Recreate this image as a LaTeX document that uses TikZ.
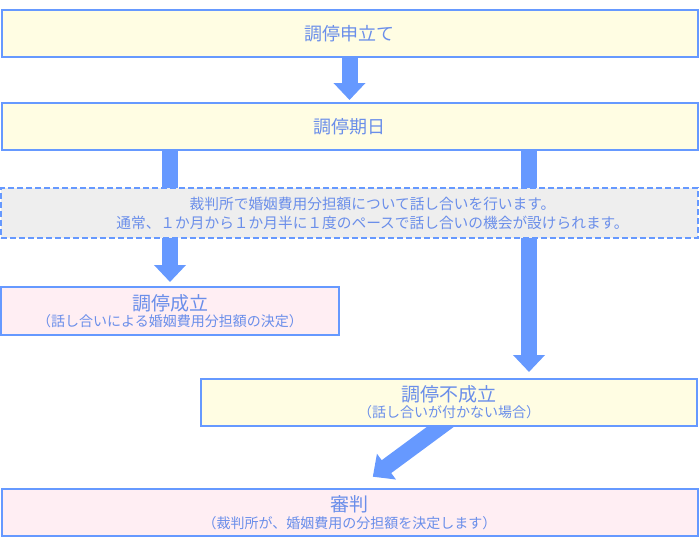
\documentclass[tikz,border=0pt]{standalone}
\usepackage{fontspec}
\setmainfont{Noto Sans CJK JP}
\usetikzlibrary{positioning,arrows.meta,backgrounds}

\definecolor{lineblue}{HTML}{6699FF}
\definecolor{textblue}{HTML}{6A8EEA}
\definecolor{creamfill}{HTML}{FFFDE3}
\definecolor{pinkfill}{HTML}{FFEEF3}
\definecolor{greyfill}{HTML}{EEEEEE}
\newcommand{\bigtxt}{\fontsize{18}{21}\selectfont}
\newcommand{\headtxt}{\fontsize{19}{20}\selectfont}
\newcommand{\smalltxt}{\fontsize{14}{17}\selectfont}

\begin{document}
\begin{tikzpicture}[x=1pt,y=-1pt,
	box/.style={draw=lineblue, line width=2pt, fill=creamfill, text=textblue,
		minimum width=696pt, minimum height=47pt, align=center, font=\bigtxt},
	pinkbox/.style={box, fill=pinkfill},
	notebox/.style={box, fill=greyfill, dash pattern=on 6pt off 3pt,
		minimum width=697pt, minimum height=50pt, font=\fontsize{14.7}{19}\selectfont},
	flow/.style={draw=lineblue, line width=16pt, -{Triangle[width=31pt,length=17pt]}}]
	 			\useasboundingbox (0,0) rectangle (700,551);
	 			\node[box] (moushitate) at (349.5,33.5) {調停申立て};
	 			\node[box] (kijitsu) [below=44pt of moushitate] {調停期日};
	 			\node[notebox] (kikai) [below=36pt of kijitsu]
	 			{\hspace*{46pt}裁判所で婚姻費用分担額について話し合いを行います。\\
	 			 \hspace*{46pt}通常、１か月から１か月半に１度のペースで話し合いの機会が設けられます。};
	 			\node[pinkbox, minimum width=338pt, minimum height=48pt] (seiritsu)
	 			[below=47pt of kikai.south west, anchor=north west]
	 			{{\headtxt 調停成立}\\[-5pt]{\smalltxt （話し合いによる婚姻費用分担額の決定）}};
	 			\node[box, minimum width=496pt] (fuseiritsu)
	 			[below=139pt of kikai.south east, anchor=north east, xshift=-1pt]
	 			{{\headtxt 調停不成立}\\[-5pt]{\smalltxt （話し合いが付かない場合）}};
	 			\node[pinkbox] (shinpan) at (349.5,512.5)
	 			{{\headtxt 審判}\\[-4pt]{\smalltxt （裁判所が、婚姻費用の分担額を決定します）}};
	 			\coordinate (r) at ([xshift=80pt]fuseiritsu.north);
	 			\begin{scope}[on background layer]
	 			\draw[flow, shorten >=2pt] (moushitate.south) -- (kijitsu.north);
	 			\draw[flow, shorten >=4pt] (kijitsu.south -| seiritsu.north) -- (seiritsu.north);
	 			\draw[flow, shorten >=6pt] (kijitsu.south -| r) -- (r);
	 			\draw[flow, shorten >=19pt] ([xshift=2pt,yshift=8pt]fuseiritsu.south)
	 			  -- ([xshift=8pt]shinpan.north);
	 			\end{scope}
	 		\end{tikzpicture}
\end{document}
